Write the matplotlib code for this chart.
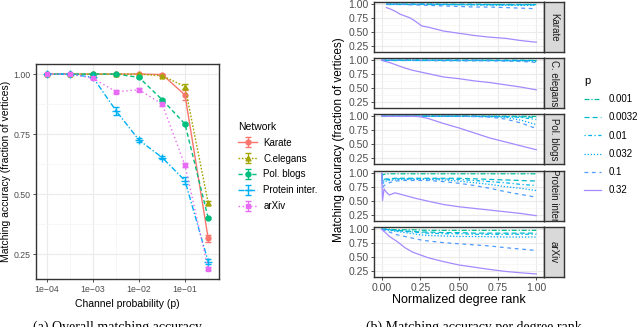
import numpy as np
import matplotlib.pyplot as plt
import matplotlib as mpl

mpl.rcParams["font.family"] = ["Liberation Sans", "DejaVu Sans"]

# ---- (a) overall matching accuracy ----
channel_p = [1e-4, 3.2e-4, 1e-3, 3.2e-3, 1e-2, 3.2e-2, 1e-1, 3.2e-1]
networks = ["Karate", "C.elegans", "Pol. blogs", "Protein inter.", "arXiv"]
acc_karate = [1.0, 1.0, 1.0, 1.0, 1.0, 0.998, 0.913, 0.315]
acc_celegans = [1.0, 1.0, 1.0, 1.0, 1.0, 0.993, 0.948, 0.463]
acc_polblogs = [1.0, 1.0, 1.0, 1.0, 0.986, 0.893, 0.792, 0.400]
acc_protein = [1.0, 1.0, 0.986, 0.846, 0.725, 0.652, 0.556, 0.218]
acc_arxiv = [1.0, 1.0, 0.982, 0.926, 0.935, 0.874, 0.620, 0.188]
err_karate = [0.0, 0.0, 0.0, 0.0, 0.0, 0.002, 0.022, 0.015]
err_celegans = [0.0, 0.0, 0.0, 0.0, 0.0, 0.003, 0.012, 0.008]
err_polblogs = [0.0, 0.0, 0.0, 0.0, 0.003, 0.004, 0.006, 0.005]
err_protein = [0.0, 0.0, 0.004, 0.018, 0.008, 0.006, 0.014, 0.010]
err_arxiv = [0.0, 0.0, 0.004, 0.006, 0.005, 0.006, 0.008, 0.006]

# ---- (b) accuracy per normalized degree rank ----
p_levels = ["0.001", "0.0032", "0.01", "0.032", "0.1", "0.32"]
facets = ["Karate", "C. elegans", "Pol. blogs", "Protein inter.", "arXiv"]

rank_karate = [0.03, 0.06, 0.09, 0.12, 0.15, 0.18, 0.21, 0.26, 0.3, 0.4, 0.5, 0.6, 0.7, 0.8, 0.9, 1.0]
rank_common = [0, 0.01, 0.02, 0.05, 0.1, 0.15, 0.2, 0.25, 0.3, 0.4, 0.5, 0.6, 0.7, 0.8, 0.9, 1.0]
rank_protein = [0, 0.005, 0.015, 0.03, 0.05, 0.085, 0.14, 0.22, 0.3, 0.4, 0.5, 0.6, 0.7, 0.8, 0.9, 1.0]

karate_curves = [
    [1.0, 1.0, 1.0, 1.0, 1.0, 1.0, 1.0, 1.0, 1.0, 1.0, 1.0, 1.0, 1.0, 1.0, 1.0, 1.0],
    [1.0, 1.0, 1.0, 1.0, 1.0, 1.0, 1.0, 1.0, 1.0, 1.0, 1.0, 1.0, 0.995, 0.995, 0.995, 0.995],
    [1.0, 1.0, 1.0, 1.0, 1.0, 1.0, 1.0, 1.0, 1.0, 0.995, 0.995, 0.99, 0.99, 0.99, 0.99, 0.99],
    [1.0, 1.0, 1.0, 1.0, 1.0, 1.0, 1.0, 1.0, 1.0, 0.995, 0.99, 0.99, 0.985, 0.98, 0.98, 0.98],
    [1.0, 1.0, 1.0, 1.0, 0.995, 0.99, 0.99, 0.985, 0.98, 0.97, 0.96, 0.95, 0.95, 0.94, 0.93, 0.92],
    [0.94, 0.91, 0.87, 0.82, 0.79, 0.76, 0.71, 0.61, 0.59, 0.52, 0.48, 0.44, 0.41, 0.39, 0.35, 0.32],
]
celegans_curves = [
    [1.0, 1.0, 1.0, 1.0, 1.0, 1.0, 1.0, 1.0, 1.0, 1.0, 1.0, 1.0, 1.0, 1.0, 1.0, 1.0],
    [1.0, 1.0, 1.0, 1.0, 1.0, 1.0, 1.0, 1.0, 1.0, 1.0, 1.0, 1.0, 1.0, 1.0, 1.0, 0.995],
    [1.0, 1.0, 1.0, 1.0, 1.0, 1.0, 1.0, 1.0, 1.0, 1.0, 1.0, 1.0, 1.0, 0.995, 0.995, 0.99],
    [1.0, 1.0, 1.0, 1.0, 1.0, 1.0, 1.0, 1.0, 1.0, 1.0, 0.995, 0.995, 0.995, 0.99, 0.99, 0.98],
    [1.0, 1.0, 1.0, 1.0, 1.0, 1.0, 1.0, 0.995, 0.995, 0.99, 0.99, 0.99, 0.99, 0.985, 0.98, 0.96],
    [1.0, 0.99, 0.98, 0.96, 0.91, 0.86, 0.82, 0.79, 0.76, 0.70, 0.67, 0.63, 0.60, 0.56, 0.52, 0.47],
]
polblogs_curves = [
    [1.0, 1.0, 1.0, 1.0, 1.0, 1.0, 1.0, 1.0, 1.0, 1.0, 1.0, 1.0, 1.0, 1.0, 1.0, 0.995],
    [1.0, 1.0, 1.0, 1.0, 1.0, 1.0, 1.0, 1.0, 1.0, 1.0, 1.0, 1.0, 1.0, 0.995, 0.99, 0.98],
    [1.0, 1.0, 1.0, 1.0, 1.0, 1.0, 1.0, 1.0, 1.0, 1.0, 1.0, 1.0, 0.995, 0.99, 0.98, 0.94],
    [1.0, 1.0, 1.0, 1.0, 1.0, 1.0, 1.0, 1.0, 1.0, 1.0, 1.0, 0.995, 0.99, 0.98, 0.93, 0.85],
    [1.0, 1.0, 1.0, 1.0, 1.0, 1.0, 1.0, 1.0, 1.0, 1.0, 1.0, 0.995, 0.985, 0.95, 0.88, 0.78],
    [1.0, 1.0, 1.0, 1.0, 1.0, 1.0, 1.0, 0.99, 0.96, 0.87, 0.79, 0.70, 0.61, 0.54, 0.47, 0.40],
]
protein_curves = [
    [1.0, 0.97, 0.98, 0.99, 0.99, 0.99, 0.99, 0.99, 0.99, 0.99, 0.99, 0.99, 0.99, 0.99, 0.99, 0.99],
    [1.0, 0.88, 0.89, 0.90, 0.90, 0.91, 0.91, 0.91, 0.91, 0.91, 0.91, 0.90, 0.89, 0.88, 0.87, 0.86],
    [1.0, 0.84, 0.87, 0.88, 0.89, 0.90, 0.90, 0.90, 0.90, 0.90, 0.89, 0.87, 0.85, 0.83, 0.80, 0.78],
    [1.0, 0.80, 0.84, 0.86, 0.87, 0.88, 0.89, 0.89, 0.89, 0.88, 0.86, 0.83, 0.80, 0.76, 0.73, 0.69],
    [1.0, 0.74, 0.78, 0.80, 0.83, 0.86, 0.87, 0.87, 0.87, 0.85, 0.82, 0.78, 0.73, 0.67, 0.62, 0.57],
    [1.0, 0.51, 0.72, 0.66, 0.61, 0.65, 0.61, 0.55, 0.50, 0.44, 0.40, 0.37, 0.34, 0.31, 0.28, 0.24],
]
arxiv_curves = [
    [1.0, 1.0, 1.0, 1.0, 0.99, 0.99, 0.99, 0.985, 0.98, 0.98, 0.98, 0.98, 0.98, 0.98, 0.98, 0.98],
    [1.0, 1.0, 1.0, 0.99, 0.98, 0.97, 0.96, 0.95, 0.95, 0.94, 0.94, 0.93, 0.93, 0.93, 0.93, 0.93],
    [1.0, 1.0, 1.0, 0.99, 0.97, 0.96, 0.95, 0.94, 0.93, 0.92, 0.92, 0.91, 0.91, 0.91, 0.91, 0.91],
    [1.0, 1.0, 0.99, 0.98, 0.96, 0.94, 0.92, 0.90, 0.89, 0.88, 0.87, 0.87, 0.865, 0.86, 0.86, 0.86],
    [1.0, 0.99, 0.98, 0.95, 0.90, 0.87, 0.84, 0.81, 0.79, 0.76, 0.74, 0.72, 0.70, 0.67, 0.645, 0.62],
    [1.0, 0.97, 0.95, 0.87, 0.78, 0.67, 0.59, 0.54, 0.49, 0.42, 0.36, 0.32, 0.28, 0.245, 0.22, 0.20],
]

# ---- style ----
net_colors = ["#F8766D", "#A3A500", "#00BF7D", "#00B0F6", "#E76BF3"]
net_styles = ["-", (0, (1.2, 1.2)), (0, (3, 2)), (0, (4, 1.5, 1, 1.5)), (0, (1, 2))]
net_markers = ["o", "^", "o", "+", "s"]
p_colors = ["#00BE9A", "#00BCC8", "#00B3EE", "#00A7FF", "#4F9BFF", "#A58AFF"]
p_styles = [(0, (4, 1.5, 1, 1.5)), (0, (4, 2.5)), (0, (1, 2, 3, 2)), (0, (1, 1.5)), (0, (3, 3)), "-"]

W, H = 640, 327
fig = plt.figure(figsize=(W / 100, H / 100), dpi=100)


def px_axes(l, t, r, b):
    return fig.add_axes([l / W, 1 - b / H, (r - l) / W, (b - t) / H])


def gg_style(ax, fs):
    ax.set_facecolor("white")
    for s in ax.spines.values():
        s.set_color("#333333")
        s.set_linewidth(1.0)
    ax.grid(True, which="major", color="#EBEBEB", lw=0.8)
    ax.grid(True, which="minor", color="#F4F4F4", lw=0.5)
    ax.set_axisbelow(True)
    ax.tick_params(which="major", length=2.5, width=0.6, color="#333333",
                   labelsize=fs, labelcolor="#4D4D4D", pad=1.5)
    ax.tick_params(which="minor", length=0)


# left panel
ax = px_axes(36, 64, 219, 279)
gg_style(ax, 6.3)
ax.set_xscale("log")
ax.set_xlim(10 ** -4.24, 10 ** -0.26)
ax.set_ylim(0.146, 1.042)
ax.set_xticks([1e-4, 1e-3, 1e-2, 1e-1])
ax.set_xticklabels(["1e\u221204", "1e\u221203", "1e\u221202", "1e\u221201"])
ax.set_xticks([10 ** -3.5, 10 ** -2.5, 10 ** -1.5, 10 ** -0.5], minor=True)
ax.set_yticks([0.25, 0.5, 0.75, 1.0])
ax.set_yticklabels(["0.25", "0.50", "0.75", "1.00"])
ax.set_yticks([0.375, 0.625, 0.875], minor=True)
ax.xaxis.set_minor_formatter(mpl.ticker.NullFormatter())

acc_all = [acc_karate, acc_celegans, acc_polblogs, acc_protein, acc_arxiv]
err_all = [err_karate, err_celegans, err_polblogs, err_protein, err_arxiv]
for name, acc, err, c, ls, mk in zip(networks, acc_all, err_all, net_colors, net_styles, net_markers):
    ax.errorbar(channel_p, acc, yerr=err, color=c, ls=ls, lw=1.0, marker=mk,
                ms=3.5 if mk != "+" else 6, mew=1.0, capsize=2, elinewidth=0.8, label=name)
ax.set_xlabel("Channel probability (p)", fontsize=7.5, labelpad=4)
ax.set_ylabel("Matching accuracy (fraction of vertices)", fontsize=7.5, labelpad=2)

leg = ax.legend(loc="upper left", bbox_to_anchor=(234 / W, 1 - 118 / H), bbox_transform=fig.transFigure,
                frameon=False, fontsize=7, title="Network", title_fontsize=7.5,
                handlelength=2.0, labelspacing=0.6, borderaxespad=0, handletextpad=0.6)
leg._legend_box.align = "left"

# right facets
tops = [2, 58, 114, 171, 227]
ranks = [rank_karate, rank_common, rank_common, rank_protein, rank_common]
curves = [karate_curves, celegans_curves, polblogs_curves, protein_curves, arxiv_curves]
handles = []
for i, (t, fac, rk, cv) in enumerate(zip(tops, facets, ranks, curves)):
    a = px_axes(374, t, 544, t + 50)
    gg_style(a, 7.5)
    a.set_xlim(-0.05, 1.05)
    a.set_ylim(0.145, 1.04)
    a.set_xticks([0, 0.25, 0.5, 0.75, 1.0])
    a.set_xticks([0.125, 0.375, 0.625, 0.875], minor=True)
    a.set_yticks([0.25, 0.5, 0.75, 1.0])
    a.set_yticklabels(["0.25", "0.50", "0.75", "1.00"])
    a.set_yticks([0.375, 0.625, 0.875], minor=True)
    for j, (vals, c, ls) in enumerate(zip(cv, p_colors, p_styles)):
        ln, = a.plot(rk, vals, color=c, ls=ls, lw=0.9, label=p_levels[j])
        if i == 0:
            handles.append(ln)
    if i < 4:
        a.tick_params(axis="x", labelbottom=False, length=0)
    else:
        a.set_xticklabels(["0.00", "0.25", "0.50", "0.75", "1.00"])
    # strip
    s = px_axes(544, t, 564, t + 50)
    s.set_facecolor("#D9D9D9")
    s.set_xticks([])
    s.set_yticks([])
    for sp in s.spines.values():
        sp.set_color("#333333")
        sp.set_linewidth(1.0)
    s.text(0.5, 0.5, fac, rotation=-90, ha="center", va="center", fontsize=7,
           color="#1A1A1A", transform=s.transAxes, clip_on=True)

fig.text(459 / W, 1 - 300 / H, "Normalized degree rank", ha="center", va="center", fontsize=9)
fig.text(339 / W, 1 - 140 / H, "Matching accuracy (fraction of vertices)", ha="center", va="center",
         rotation=90, fontsize=8.5)
fig.legend(handles=handles, labels=p_levels, loc="upper left", bbox_to_anchor=(580 / W, 1 - 72 / H),
           frameon=False, fontsize=7, title="p", title_fontsize=8, handlelength=1.8,
           labelspacing=0.85, borderaxespad=0, handletextpad=0.7)._legend_box.align = "left"

# captions (cut off at the bottom edge, as in the source figure)
fig.text(33 / W, 1 - 321 / H, "(a) Overall matching accuracy", fontsize=10, va="top",
         family=["Liberation Serif", "DejaVu Serif"])
fig.text(366 / W, 1 - 321 / H, "(b) Matching accuracy per degree rank", fontsize=10, va="top",
         family=["Liberation Serif", "DejaVu Serif"])

fig.savefig("out.png", dpi=100)
